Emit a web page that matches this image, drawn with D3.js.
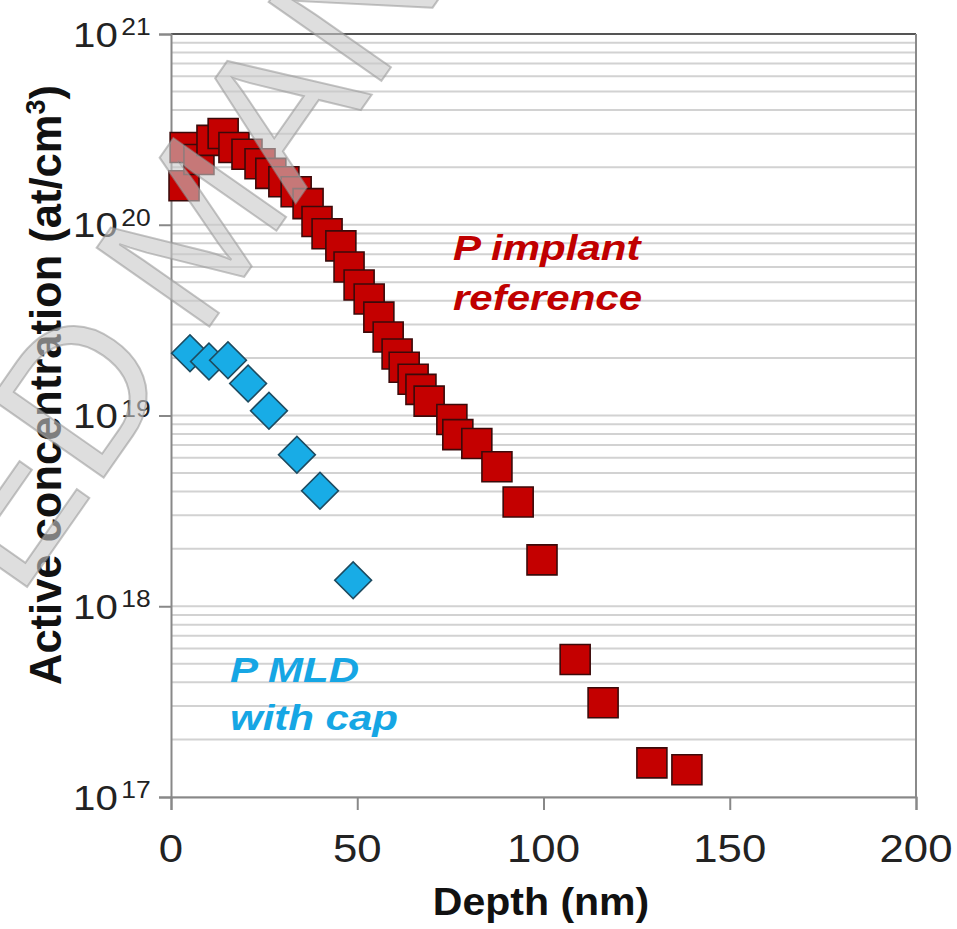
<!DOCTYPE html>
<html lang="en">
<head>
<meta charset="utf-8">
<title>Active concentration vs depth</title>
<script src="https://cdn.jsdelivr.net/npm/d3@7"></script>
<style>
  body { margin: 0; background: #fff; }
  svg { display: block; font-family: "Liberation Sans", Arial, sans-serif; }
</style>
</head>
<body>
<div id="chart"></div>
<script>
// depth (nm) and active concentration (at/cm3)
var implantDepth = [3.5, 3.8, 7.5, 11.0, 14.0, 16.9, 20.4, 23.9, 26.8, 30.3, 33.6, 36.8,
  39.2, 41.9, 45.6, 47.8, 50.5, 53.2, 55.8, 58.3, 60.7, 62.6, 65.0, 67.1, 69.3,
  75.4, 77.0, 82.1, 87.5, 93.2, 99.6, 108.5, 116.0, 129.1, 138.5];
var implantConc = [1.60e20, 2.54e20, 2.20e20, 2.77e20, 3.01e20, 2.54e20, 2.34e20, 2.09e20,
  1.86e20, 1.68e20, 1.49e20, 1.29e20, 1.04e20, 8.97e19, 7.75e19, 6.01e19, 4.83e19,
  4.08e19, 3.28e19, 2.58e19, 2.10e19, 1.79e19, 1.55e19, 1.37e19, 1.19e19,
  9.53e18, 7.94e18, 7.13e18, 5.39e18, 3.52e18, 1.75e18, 5.26e17, 3.12e17, 1.51e17, 1.39e17];

var mldDepth = [5.1, 10.2, 15.3, 20.7, 26.3, 33.8, 40.0, 48.9];
var mldConc = [2.12e19, 1.92e19, 1.95e19, 1.47e19, 1.06e19, 6.23e18, 4.03e18, 1.37e18];

var xTicks = [0, 50, 100, 150, 200];
var yExponents = [17, 18, 19, 20, 21];

var width = 957, height = 929;
var margin = {top: 34, right: 41, bottom: 132, left: 171};
var sx = 1.15; // text in the figure is a bit wider than tall

var svg = d3.select("#chart").append("svg")
    .attr("width", width)
    .attr("height", height);

var x = d3.scaleLinear().domain([0, 200]).range([margin.left, width - margin.right]);
var y = d3.scaleLog().domain([1e17, 1e21]).range([height - margin.bottom, margin.top]);

// horizontal grid, every 1..9 of each decade
var grid = [];
yExponents.slice(0, -1).forEach(function(e) {
  for (var k = 1; k <= 9; k++) grid.push(k * Math.pow(10, e));
});
grid.push(1e21);

svg.append("g").selectAll("line").data(grid).enter().append("line")
    .attr("x1", x(0)).attr("x2", x(200))
    .attr("y1", function(d) { return y(d); })
    .attr("y2", function(d) { return y(d); })
    .attr("stroke", "#d2d2d2")
    .attr("stroke-width", 2);

// frame
svg.append("line").attr("x1", x(0)).attr("x2", x(200)).attr("y1", y(1e21)).attr("y2", y(1e21))
    .attr("stroke", "#555").attr("stroke-width", 2);
svg.append("line").attr("x1", x(200)).attr("x2", x(200)).attr("y1", y(1e21)).attr("y2", y(1e17))
    .attr("stroke", "#8a8a8a").attr("stroke-width", 2);

// axes
var yAxis = d3.axisLeft(y).tickValues(yExponents.map(function(e) { return Math.pow(10, e); }))
    .tickSize(12).tickFormat("");
var gy = svg.append("g").attr("transform", "translate(" + x(0) + ",0)").call(yAxis);
gy.selectAll("path, line").attr("stroke", "#888").attr("stroke-width", 2);

var xAxis = d3.axisBottom(x).tickValues(xTicks).tickSize(13).tickFormat("");
var gx = svg.append("g").attr("transform", "translate(0," + y(1e17) + ")").call(xAxis);
gx.selectAll("path, line").attr("stroke", "#888").attr("stroke-width", 2);

// y tick labels 10^n
var ylab = svg.append("g").selectAll("text").data(yExponents).enter().append("text")
    .attr("transform", function(e) { return "translate(73," + (y(Math.pow(10, e)) + 12.5) + ") scale(" + sx + ",1)"; })
    .attr("fill", "#222");
ylab.append("tspan").attr("font-size", 35).text("10");
ylab.append("tspan").attr("font-size", 23).attr("dx", 3).attr("dy", -11.5)
    .text(function(e) { return e; });

// x tick labels
svg.append("g").selectAll("text").data(xTicks).enter().append("text")
    .attr("transform", function(d) { return "translate(" + x(d) + ",862) scale(" + sx + ",1)"; })
    .attr("text-anchor", "middle")
    .attr("font-size", 38)
    .attr("fill", "#222")
    .text(function(d) { return d; });

// axis titles
svg.append("text")
    .attr("transform", "translate(541,915) scale(1.08,1)")
    .attr("text-anchor", "middle")
    .attr("font-size", 38)
    .attr("font-weight", "bold")
    .attr("fill", "#111")
    .text("Depth (nm)");

var yt = svg.append("text")
    .attr("transform", "translate(61,385) rotate(-90)")
    .attr("text-anchor", "middle")
    .attr("font-size", 43.5)
    .attr("font-weight", "bold")
    .attr("fill", "#111");
yt.append("tspan").text("Active concentration (at/cm");
yt.append("tspan").attr("font-size", 27).attr("dy", -16).text("3");
yt.append("tspan").attr("dy", 16).text(")");

// P implant reference: squares
svg.append("g").selectAll("path").data(implantDepth).enter().append("path")
    .attr("d", d3.symbol().type(d3.symbolSquare).size(900))
    .attr("transform", function(d, i) { return "translate(" + x(d) + "," + y(implantConc[i]) + ")"; })
    .attr("fill", "#c40000")
    .attr("stroke", "#3b0a0a")
    .attr("stroke-width", 1.6);

// P MLD with cap: diamonds
svg.append("g").selectAll("path").data(mldDepth).enter().append("path")
    .attr("d", d3.symbol().type(d3.symbolSquare).size(676))
    .attr("transform", function(d, i) { return "translate(" + x(d) + "," + y(mldConc[i]) + ") rotate(45)"; })
    .attr("fill", "#18ace6")
    .attr("stroke", "#1d4b60")
    .attr("stroke-width", 1.6);

// series labels
function label(lines, x0, y0, color) {
  lines.forEach(function(t, i) {
    svg.append("text")
        .attr("transform", "translate(" + x0 + "," + (y0[i]) + ") scale(1.2,1)")
        .attr("font-size", 35)
        .attr("font-weight", "bold")
        .attr("font-style", "italic")
        .attr("fill", color)
        .text(t);
  });
}
label(["P implant", "reference"], 453, [260, 310], "#c00000");
label(["P MLD", "with cap"], 230, [682, 730], "#16a6e4");

// watermark
var wm = svg.append("g")
    .attr("transform", "translate(200,340) rotate(-55)")
    .attr("font-size", 200)
    .attr("fill", "#c8c8c8")
    .attr("fill-opacity", 0.6)
    .attr("stroke", "#969696")
    .attr("stroke-opacity", 0.55)
    .attr("stroke-width", 2);
wm.append("text").attr("x", -40).attr("text-anchor", "end").text("ACCEPTED");
wm.append("text").attr("x", 0).text("MANUSCRIPT");
</script>
</body>
</html>
